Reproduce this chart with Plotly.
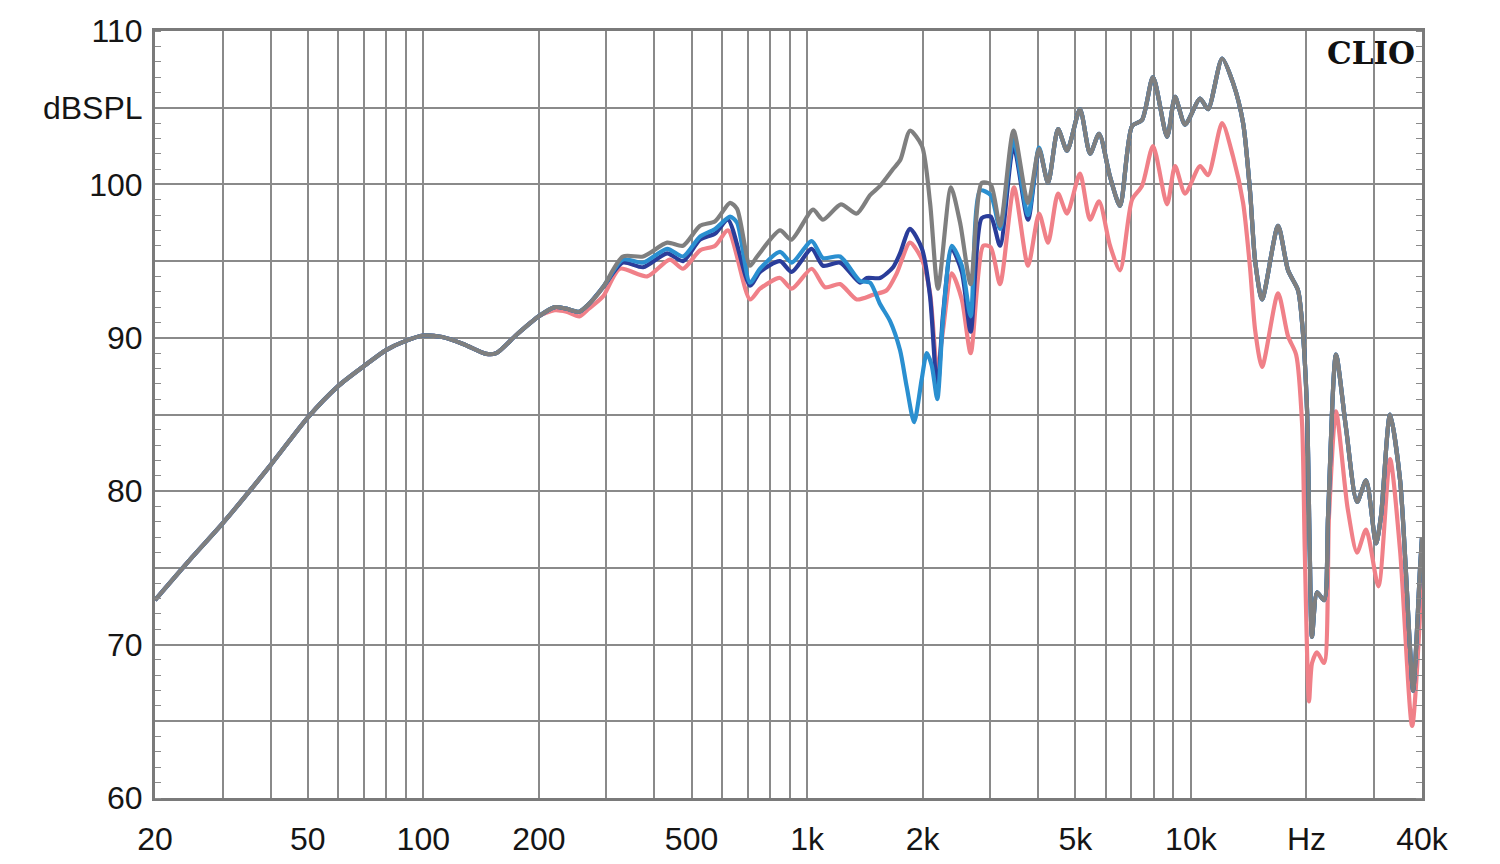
import plotly.graph_objects as go

# ---------------- data (frequency in Hz, level in dBSPL) ----------------
lf_common = [(20, 72.9), (25, 75.7), (30, 77.9), (40, 81.7), (50, 84.8), (60, 86.85),
             (70, 88.15), (80, 89.2), (90, 89.8), (100, 90.15), (112, 90.05), (127, 89.6),
             (146, 88.95), (155, 89.0), (175, 90.2), (200, 91.4)]

lf_upper = [(220, 92.0), (236, 91.9), (255, 91.7), (270, 92.2), (294, 93.3)]

gray_mid = [(331, 95.3), (374, 95.3), (432, 96.2), (475, 96.0), (526, 97.3), (576, 97.6),
            (630, 98.8), (657, 98.4), (710, 94.7), (741, 95.3), (850, 97.0), (910, 96.4),
            (1036, 98.35), (1100, 97.7), (1225, 98.7), (1347, 98.1), (1459, 99.3), (1549, 99.9),
            (1675, 101.0), (1750, 101.6), (1854, 103.5), (1992, 102.5), (2091, 98.8), (2193, 93.2),
            (2370, 99.8), (2504, 97.5), (2668, 93.5), (2851, 100.1), (3009, 100.0), (3182, 97.3),
            (3450, 103.5), (3764, 98.8), (4021, 102.3)]

hf_shared = [(4244, 100.1), (4506, 103.6), (4756, 102.2), (5140, 104.9), (5460, 102.0),
             (5763, 103.3), (6156, 100.5), (6537, 98.6), (7024, 103.8), (7457, 104.2),
             (7967, 107.0), (8667, 103.1), (9093, 105.7), (9656, 103.9), (10566, 105.6),
             (11083, 104.9), (12057, 108.2), (12880, 106.6), (13676, 104.0), (14264, 99.5),
             (14700, 95.0), (15327, 92.5), (16868, 97.3), (17908, 94.4), (19012, 93.1),
             (19480, 91.0), (20070, 85.3), (20400, 76.0), (20680, 70.5), (21310, 73.4),
             (22226, 72.9), (22768, 78.4), (23880, 88.9), (25360, 84.1), (27090, 79.3),
             (28600, 80.7), (30360, 76.6), (31280, 78.4), (33020, 85.0), (35080, 80.7),
             (37240, 69.7), (37920, 67.0), (39540, 75.0), (40000, 77.0)]

blue_mid = [(331, 95.1), (374, 94.9), (432, 95.8), (475, 95.3), (526, 96.6), (576, 97.1),
            (630, 97.9), (657, 97.5), (710, 93.6), (754, 94.5), (850, 95.6), (912, 94.9),
            (1028, 96.3), (1100, 95.2), (1219, 95.3), (1374, 93.7), (1459, 93.6), (1549, 92.2),
            (1644, 91.1), (1746, 89.2), (1818, 86.8), (1900, 84.5), (1989, 87.3), (2050, 89.0),
            (2112, 88.2), (2184, 86.0), (2260, 91.2), (2382, 96.0), (2530, 94.7), (2668, 91.4),
            (2822, 99.6), (3009, 99.3), (3182, 97.1), (3450, 102.9), (3764, 98.0), (4021, 102.4)]

navy_mid = [(331, 94.9), (374, 94.6), (432, 95.5), (475, 95.0), (526, 96.4), (576, 96.8),
            (622, 97.7), (710, 93.4), (754, 94.3), (850, 95.0), (912, 94.3), (1028, 95.8),
            (1100, 94.7), (1219, 94.9), (1374, 93.6), (1430, 93.9), (1549, 93.9), (1675, 94.6),
            (1746, 95.5), (1854, 97.1), (1992, 95.8), (2091, 92.7), (2184, 86.5), (2260, 91.5),
            (2382, 95.8), (2530, 94.3), (2668, 90.4), (2851, 97.8), (3009, 97.9), (3182, 96.0),
            (3450, 102.5), (3764, 97.7), (4021, 102.3)]

pink_upper = [(220, 91.8), (236, 91.7), (255, 91.4), (270, 91.9), (294, 92.7), (325, 94.5),
              (383, 94.0), (439, 95.1), (475, 94.5), (526, 95.7), (576, 96.0), (622, 97.0),
              (710, 92.5), (754, 93.2), (850, 93.9), (912, 93.2), (1028, 94.5), (1113, 93.3),
              (1219, 93.5), (1347, 92.5), (1485, 92.8), (1612, 93.1), (1712, 94.2), (1854, 96.2),
              (1992, 95.1), (2091, 92.9), (2184, 87.8), (2260, 90.5), (2382, 94.2), (2530, 92.5),
              (2668, 89.0), (2878, 96.0), (3009, 95.9), (3182, 93.5), (3460, 99.8), (3764, 94.7),
              (4021, 98.1), (4244, 96.2), (4506, 99.4), (4756, 98.1), (5140, 100.7), (5460, 97.7),
              (5763, 98.9), (6156, 96.0), (6537, 94.4), (7024, 99.0), (7457, 99.9), (7967, 102.5),
              (8667, 98.7), (9093, 101.2), (9656, 99.4), (10566, 101.2), (11083, 100.6),
              (12057, 104.0), (12880, 101.8), (13676, 98.8), (14264, 94.5), (14700, 90.5),
              (15327, 88.1), (16868, 92.9), (17908, 90.1), (18800, 88.9), (19480, 84.4),
              (19800, 76.1), (20310, 66.3), (20680, 68.8), (21310, 69.5), (22226, 68.8),
              (22900, 78.4), (23880, 85.2), (25600, 78.9), (27090, 76.0), (28600, 77.5),
              (30800, 73.8), (33020, 82.1), (35080, 76.1), (37700, 64.7), (40000, 74.5)]

grid_freqs = [20, 30, 40, 50, 60, 70, 80, 90, 100, 200, 300, 400, 500, 600, 700, 800, 900,
              1000, 2000, 3000, 4000, 5000, 6000, 7000, 8000, 9000, 10000, 20000, 30000, 40000]
x_labels = {20: "20", 50: "50", 100: "100", 200: "200", 500: "500", 1000: "1k", 2000: "2k",
            5000: "5k", 10000: "10k", 20000: "Hz", 40000: "40k"}
y_grid = [60, 65, 70, 75, 80, 85, 90, 95, 100, 105, 110]
y_labels = {60: "60", 70: "70", 80: "80", 90: "90", 100: "100", 105: "dBSPL", 110: "110"}

series = [
    ("pink", lf_common + pink_upper, "#f08088"),
    ("navy", lf_common + lf_upper + navy_mid + hf_shared, "#2a3d9a"),
    ("blue", lf_common + lf_upper + blue_mid + hf_shared, "#2a8fd0"),
    ("gray", lf_common + lf_upper + gray_mid + hf_shared, "#7f7f7f"),
]

fig = go.Figure()
for name, pts, col in series:
    fx = [p[0] for p in pts]
    fy = [p[1] for p in pts]
    fig.add_trace(go.Scatter(x=fx, y=fy, mode="lines", name=name,
                             line=dict(color=col, width=4.2, shape="spline", smoothing=0.7),
                             showlegend=False, hoverinfo="skip"))

font = dict(family="Liberation Sans, Arial, sans-serif", size=32, color="#151515")
gridc = "#8a8a8a"
fig.update_layout(
    width=1484, height=848,
    margin=dict(l=147, r=70, t=23, b=58, autoexpand=False),
    paper_bgcolor="white", plot_bgcolor="white",
    font=font,
    xaxis=dict(type="log", range=[1.30103, 4.60206], tickmode="array",
               tickvals=grid_freqs, ticktext=[x_labels.get(f, "") for f in grid_freqs],
               showgrid=True, gridcolor=gridc, gridwidth=1.6, ticks="",
               showline=True, linecolor="#7a7a7a", linewidth=3, mirror=True,
               ticklabelstandoff=11, zeroline=False, tickfont=font),
    yaxis=dict(range=[60, 110], tickmode="array", tickvals=y_grid,
               ticktext=[y_labels.get(v, "") for v in y_grid],
               showgrid=True, gridcolor=gridc, gridwidth=1.6, ticks="",
               showline=True, linecolor="#7a7a7a", linewidth=3, mirror="allticks",
               ticklabelstandoff=3, zeroline=False, tickfont=font,
               minor=dict(tickmode="linear", tick0=60, dtick=1, ticks="inside", ticklen=6,
                          tickwidth=1.4, tickcolor="#8a8a8a", showgrid=False)),
)
fig.add_annotation(text="<b>CLIO</b>", xref="paper", yref="paper", x=0.996, y=0.998,
                   xanchor="right", yanchor="top", showarrow=False,
                   font=dict(family="DejaVu Serif, Liberation Serif, serif", size=31, color="#111"))
fig.write_html("out.html")
